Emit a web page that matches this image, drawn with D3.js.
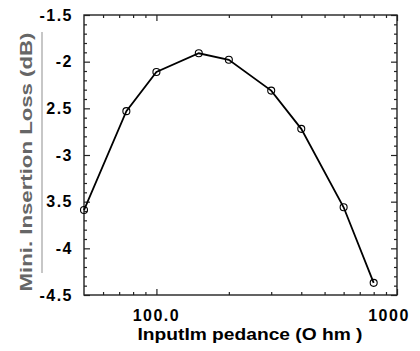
<!DOCTYPE html>
<html>
<head>
<meta charset="utf-8">
<script src="https://cdn.jsdelivr.net/npm/d3@7"></script>
<style>
  body { margin: 0; background: #fff; }
  text { font-family: "Liberation Sans", Arial, sans-serif; }
</style>
</head>
<body>
<script>
const width = 420;
const height = 351;
const margin = { top: 15, right: 23, bottom: 56, left: 84 };

// data
const impedance = [50, 75, 100, 150, 200, 300, 400, 600, 800];
const loss = [-3.59, -2.53, -2.11, -1.91, -1.98, -2.31, -2.72, -3.56, -4.37];

// tick values and labels (labels kept as they appear)
const yMajor = [-1.5, -2, -2.5, -3, -3.5, -4, -4.5];
const yLabels = ["-1.5", "-2", "2.5", "-3", "3.5", "-4", "-4.5"];
const xMajor = [100, 1000];
const xLabels = ["100.0", "1000"];
const xMinor = [60, 70, 80, 90, 200, 300, 400, 500, 600, 700, 800, 900];

const svg = d3.select("body").append("svg")
  .attr("width", width)
  .attr("height", height);

const x = d3.scaleLog().domain([50, 1000]).range([margin.left, width - margin.right]);
const y = d3.scaleLinear().domain([-4.5, -1.5]).range([height - margin.bottom, margin.top]);

const yMinor = d3.range(-45, -14).map(d => d / 10).filter(d => !yMajor.includes(d));

// inward ticks on all four sides
function addAxis(axis, tx, ty) {
  const g = svg.append("g").attr("transform", `translate(${tx},${ty})`).call(axis);
  g.select(".domain").remove();
  g.selectAll("text").remove();
  g.selectAll("line").attr("stroke", "#222").attr("stroke-width", 1.2);
  return g;
}
addAxis(d3.axisLeft(y).tickValues(yMajor).tickSize(-6), margin.left, 0);
addAxis(d3.axisLeft(y).tickValues(yMinor).tickSize(-3), margin.left, 0);
addAxis(d3.axisRight(y).tickValues(yMajor).tickSize(-6), width - margin.right, 0);
addAxis(d3.axisRight(y).tickValues(yMinor).tickSize(-3), width - margin.right, 0);
addAxis(d3.axisBottom(x).tickValues(xMajor).tickSize(-6), 0, height - margin.bottom);
addAxis(d3.axisBottom(x).tickValues(xMinor).tickSize(-3), 0, height - margin.bottom);
addAxis(d3.axisTop(x).tickValues(xMajor).tickSize(-6), 0, margin.top);
addAxis(d3.axisTop(x).tickValues(xMinor).tickSize(-3), 0, margin.top);

// frame
svg.append("rect")
  .attr("x", margin.left)
  .attr("y", margin.top)
  .attr("width", width - margin.left - margin.right)
  .attr("height", height - margin.top - margin.bottom)
  .attr("fill", "none")
  .attr("stroke", "#222")
  .attr("stroke-width", 1.4);

// y tick labels
svg.append("g").selectAll("text")
  .data(yMajor)
  .join("text")
  .attr("x", margin.left - 11)
  .attr("y", d => y(d))
  .attr("dy", "0.36em")
  .attr("text-anchor", "end")
  .attr("font-size", 16)
  .attr("font-weight", "bold")
  .attr("letter-spacing", 1.5)
  .text((d, i) => yLabels[i]);

// x tick labels
svg.append("g").selectAll("text")
  .data(xMajor)
  .join("text")
  .attr("x", (d, i) => x(d) - (i === xMajor.length - 1 ? 8 : 0))
  .attr("y", height - margin.bottom + 26)
  .attr("text-anchor", "middle")
  .attr("font-size", 16)
  .attr("font-weight", "bold")
  .attr("letter-spacing", 1.5)
  .text((d, i) => xLabels[i]);

// axis titles
svg.append("text")
  .attr("x", 250)
  .attr("y", 340)
  .attr("text-anchor", "middle")
  .attr("font-size", 17)
  .attr("font-weight", "bold")
  .attr("textLength", 225)
  .attr("lengthAdjust", "spacingAndGlyphs")
  .text("InputIm pedance (O hm )");

svg.append("text")
  .attr("transform", "translate(32,162) rotate(-90)")
  .attr("text-anchor", "middle")
  .attr("font-size", 16)
  .attr("font-weight", "bold")
  .attr("fill", "#666")
  .attr("textLength", 259)
  .attr("lengthAdjust", "spacingAndGlyphs")
  .text("Mini. Insertion Loss (dB)");

svg.append("line")
  .attr("x1", 42).attr("x2", 42)
  .attr("y1", 32).attr("y2", 273)
  .attr("stroke", "#b5b5b5")
  .attr("stroke-width", 1.5);

// series
const pts = impedance.map((d, i) => [d, loss[i]]);

svg.append("path")
  .datum(pts)
  .attr("fill", "none")
  .attr("stroke", "#000")
  .attr("stroke-width", 1.8)
  .attr("d", d3.line().x(d => x(d[0])).y(d => y(d[1])));

svg.append("g").selectAll("circle")
  .data(pts)
  .join("circle")
  .attr("cx", d => x(d[0]))
  .attr("cy", d => y(d[1]))
  .attr("r", 3.5)
  .attr("fill", "none")
  .attr("stroke", "#000")
  .attr("stroke-width", 1.1);
</script>
</body>
</html>
